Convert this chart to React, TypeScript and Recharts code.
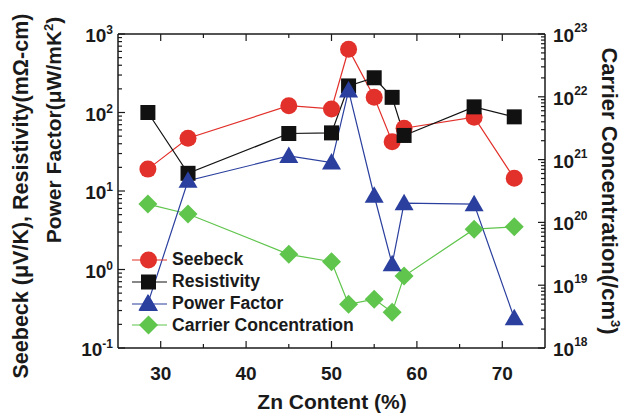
import React from 'react';
import { ComposedChart, Line, XAxis, YAxis, Legend } from 'recharts';

const FONT = '"Liberation Sans", Arial, Helvetica, sans-serif';
const INK = '#1a1a1a';
const RED = '#e2302a';
const BLACK = '#111111';
const BLUE = '#2a3f9e';
const GREEN = '#5fc54c';

// Zn content (%) of each sample
const znContent = [28.5, 33.2, 45, 50, 52, 55, 57.1, 58.5, 66.7, 71.4];
// Seebeck (uV/K)
const seebeck = [19, 47, 122, 111, 640, 156, 42.5, 63, 87, 14.5];
// Resistivity (mOhm-cm)
const resistivity = [100, 16.8, 54, 55, 218, 277, 156, 51, 118, 88];
// Power factor (uW/mK^2)
const powerFactor = [0.37, 13.5, 28, 23, 190, 8.7, 1.17, 7.0, 6.8, 0.24];
// Carrier concentration (/cm^3)
const carrierConc = [1.96e20, 1.36e20, 3.1e19, 2.37e19, 4.97e18, 6.0e18, 3.7e18, 1.4e19, 7.8e19, 8.5e19];

const xMajorTicks = [30, 40, 50, 60, 70];
const xMinorTicks = [35, 45, 55, 65];
const leftDecades = [0.1, 1, 10, 100, 1000];
const rightDecades = [1e18, 1e19, 1e20, 1e21, 1e22, 1e23];
const seriesNames = ['Seebeck', 'Resistivity', 'Power Factor', 'Carrier Concentration'];
const seriesKinds = ['circle', 'square', 'triangle', 'diamond'];
const seriesColors = [RED, BLACK, BLUE, GREEN];

const data = znContent.map((zn, i) => ({
  zn,
  seebeck: seebeck[i],
  resistivity: resistivity[i],
  powerFactor: powerFactor[i],
  carrier: carrierConc[i],
}));

function withMinor(decades: number[]) {
  const out = [...decades];
  for (let i = 0; i < decades.length - 1; i++) {
    for (let m = 2; m <= 9; m++) out.push(decades[i] * m);
  }
  return out.sort((a, b) => a - b);
}
const leftTicks = withMinor(leftDecades);
const rightTicks = withMinor(rightDecades);
const xTicks = [...xMajorTicks, ...xMinorTicks].sort((a, b) => a - b);

const isDecade = (v: number, decades: number[]) => decades.some((d) => Math.abs(v / d - 1) < 1e-6);
const expOf = (v: number) => Math.round(Math.log10(v));

function Marker({ kind, cx, cy }: { kind: string; cx: number; cy: number }) {
  switch (kind) {
    case 'circle':
      return <circle cx={cx} cy={cy} r={8.5} fill={RED} />;
    case 'square':
      return <rect x={cx - 7.5} y={cy - 7.5} width={15} height={15} fill={BLACK} />;
    case 'triangle':
      return <polygon points={`${cx},${cy - 9.5} ${cx - 9.5},${cy + 7} ${cx + 9.5},${cy + 7}`} fill={BLUE} />;
    default:
      return <polygon points={`${cx},${cy - 9.5} ${cx + 9.5},${cy} ${cx},${cy + 9.5} ${cx - 9.5},${cy}`} fill={GREEN} />;
  }
}

const dotFor = (kind: string) => (p: any) => {
  if (p.cx == null || p.cy == null) return <g key={`${kind}-${p.index}`} />;
  return (
    <g key={`${kind}-${p.index}`}>
      <Marker kind={kind} cx={p.cx} cy={p.cy} />
    </g>
  );
};

const tickStroke = { stroke: INK, strokeWidth: 1.2 };

const BottomTick = (p: any) => {
  const v = p.payload.value;
  const major = xMajorTicks.includes(v);
  return (
    <g>
      <line x1={p.x} x2={p.x} y1={p.y} y2={p.y - (major ? 7 : 4)} {...tickStroke} />
      {major && (
        <text x={p.x} y={p.y + 32} textAnchor="middle" fontFamily={FONT} fontWeight={700} fontSize={19} fill={INK}>
          {v}
        </text>
      )}
    </g>
  );
};

const TopTick = (p: any) => {
  const v = p.payload.value;
  const major = xMajorTicks.includes(v);
  return <line x1={p.x} x2={p.x} y1={p.y} y2={p.y + (major ? 7 : 4)} {...tickStroke} />;
};

const LeftTick = (p: any) => {
  const v = p.payload.value;
  const major = isDecade(v, leftDecades);
  return (
    <g>
      <line x1={p.x} x2={p.x + (major ? 7 : 4)} y1={p.y} y2={p.y} {...tickStroke} />
      {major && (
        <text x={p.x - 5} y={p.y + 8} textAnchor="end" fontFamily={FONT} fontWeight={700} fontSize={19} fill={INK}>
          10
          <tspan dy={-8} fontSize={12}>
            {expOf(v)}
          </tspan>
        </text>
      )}
    </g>
  );
};

const RightTick = (p: any) => {
  const v = p.payload.value;
  const major = isDecade(v, rightDecades);
  return (
    <g>
      <line x1={p.x} x2={p.x - (major ? 7 : 4)} y1={p.y} y2={p.y} {...tickStroke} />
      {major && (
        <text x={p.x + 8} y={p.y + 8} textAnchor="start" fontFamily={FONT} fontWeight={700} fontSize={19} fill={INK}>
          10
          <tspan dy={-10} fontSize={12}>
            {expOf(v)}
          </tspan>
        </text>
      )}
    </g>
  );
};

const renderLegend = () => (
  <div style={{ fontFamily: FONT, fontWeight: 700, fontSize: 17.6, color: INK }}>
    {seriesNames.map((name, i) => (
      <div key={name} style={{ display: 'flex', alignItems: 'center', height: 21.8 }}>
        <svg width={38} height={22} style={{ display: 'block' }}>
          <line x1={2} x2={37} y1={11} y2={11} stroke={seriesColors[i]} strokeWidth={1.2} />
          <Marker kind={seriesKinds[i]} cx={18.5} cy={11} />
        </svg>
        <span style={{ marginLeft: 4, whiteSpace: 'nowrap' }}>{name}</span>
      </div>
    ))}
  </div>
);

const axisLine = { stroke: INK, strokeWidth: 1.5 };

export default function App() {
  return (
    <div style={{ position: 'absolute', left: 0, top: 0, width: 632, height: 418, background: '#fff' }}>
      <ComposedChart width={632} height={418} data={data} margin={{ top: 33, right: 86, bottom: 69, left: 117 }}>
        <XAxis
          dataKey="zn"
          type="number"
          domain={[25, 75]}
          ticks={xTicks}
          interval={0}
          height={1}
          tickSize={0}
          tickMargin={0}
          tickLine={false}
          axisLine={axisLine}
          tick={BottomTick}
          allowDataOverflow
        />
        <XAxis
          xAxisId="top"
          orientation="top"
          dataKey="zn"
          type="number"
          domain={[25, 75]}
          ticks={xTicks}
          interval={0}
          height={1}
          tickSize={0}
          tickMargin={0}
          tickLine={false}
          axisLine={axisLine}
          tick={TopTick}
          allowDataOverflow
        />
        <YAxis
          yAxisId="left"
          type="number"
          scale="log"
          domain={[0.1, 1000]}
          ticks={leftTicks}
          interval={0}
          width={1}
          tickSize={0}
          tickMargin={0}
          tickLine={false}
          axisLine={axisLine}
          tick={LeftTick}
          allowDataOverflow
        />
        <YAxis
          yAxisId="right"
          orientation="right"
          type="number"
          scale="log"
          domain={[1e18, 1e23]}
          ticks={rightTicks}
          interval={0}
          width={1}
          tickSize={0}
          tickMargin={0}
          tickLine={false}
          axisLine={axisLine}
          tick={RightTick}
          allowDataOverflow
        />
        <Legend
          layout="vertical"
          align="center"
          verticalAlign="middle"
          content={renderLegend}
          wrapperStyle={{ left: 130, top: 249, width: 260 }}
        />
        <Line yAxisId="right" dataKey="carrier" name={seriesNames[3]} stroke={GREEN} strokeWidth={1.2} dot={dotFor('diamond')} activeDot={false} isAnimationActive={false} />
        <Line yAxisId="left" dataKey="seebeck" name={seriesNames[0]} stroke={RED} strokeWidth={1.2} dot={dotFor('circle')} activeDot={false} isAnimationActive={false} />
        <Line yAxisId="left" dataKey="resistivity" name={seriesNames[1]} stroke={BLACK} strokeWidth={1.2} dot={dotFor('square')} activeDot={false} isAnimationActive={false} />
        <Line yAxisId="left" dataKey="powerFactor" name={seriesNames[2]} stroke={BLUE} strokeWidth={1.2} dot={dotFor('triangle')} activeDot={false} isAnimationActive={false} />
      </ComposedChart>
      <svg
        width={632}
        height={418}
        style={{ position: 'absolute', left: 0, top: 0, pointerEvents: 'none' }}
        fontFamily={FONT}
        fontWeight={700}
        fill={INK}
      >
        <text x={332} y={409} textAnchor="middle" fontSize={21}>
          Zn Content (%)
        </text>
        <text transform="translate(28,196) rotate(-90)" textAnchor="middle" fontSize={21.5}>
          Seebeck (μV/K), Resistivity(mΩ-cm)
        </text>
        <text transform="translate(61,130) rotate(-90)" textAnchor="middle" fontSize={21}>
          Power Factor(μW/mK
          <tspan dy={-8} fontSize={13}>
            2
          </tspan>
          <tspan dy={8}>)</tspan>
        </text>
        <text transform="translate(602,191) rotate(90)" textAnchor="middle" fontSize={22}>
          Carrier Concentration(/cm
          <tspan dy={-9} fontSize={13}>
            3
          </tspan>
          <tspan dy={9}>)</tspan>
        </text>
      </svg>
    </div>
  );
}
